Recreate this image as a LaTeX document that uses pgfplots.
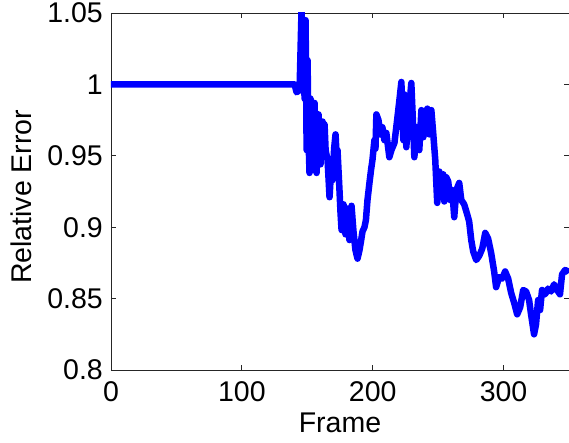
\documentclass[border=0pt]{standalone}
\usepackage{pgfplots}
\pgfplotsset{compat=1.18}
\usepackage{fontspec}
\setmainfont{Liberation Sans}
\definecolor{mlBlue}{RGB}{0,0,255}
\definecolor{axGray}{RGB}{38,38,38}

\begin{document}
\begin{tikzpicture}
\begin{axis}[
  scale only axis,
  width=458pt, height=357pt,
  xmin=0, xmax=350,
  ymin=0.8, ymax=1.05,
  xtick={0,100,200,300},
  ytick={0.8,0.85,0.9,0.95,1,1.05},
  yticklabels={0.8,0.85,0.9,0.95,1,1.05},
  tick align=inside,
  major tick length=5pt,
  axis line style={draw=axGray, line width=0.8pt},
  every tick/.style={draw=axGray, line width=0.8pt},
  /pgf/number format/assume math mode=true,
  tick label style={font=\fontsize{28.5}{32}\selectfont, text=black, inner sep=0pt},
  xticklabel style={anchor=north, yshift=-11pt},
  yticklabel style={anchor=east, xshift=-8pt},
  xlabel={Frame},
  ylabel={Relative Error},
  label style={font=\fontsize{28.5}{32}\selectfont, inner sep=0pt},
  xlabel style={at={(axis description cs:0.5,0)}, anchor=base, yshift=-62pt},
  ylabel style={at={(axis description cs:-0.1725,0.485)}, anchor=south},
]
\addplot[color=mlBlue, line width=6.5pt, line join=round, line cap=butt] coordinates {
(0,1.0)(140.3,1.0)(141.8,0.9945)(144.1,0.996)(145.6,1.052)(146.4,1.02)
(147.2,1.04)(147.9,0.99)(148.7,1.045)(149.5,0.954)(150.2,1.017)(151.0,0.96)
(151.7,0.938)(152.5,0.99)(153.3,0.982)(154.0,0.940)(154.8,0.975)(155.6,0.987)
(156.3,0.95)(157.1,0.938)(157.9,0.97)(158.6,0.979)(159.4,0.95)(160.1,0.944)
(160.9,0.968)(161.7,0.974)(162.4,0.955)(163.2,0.972)(164.0,0.954)(165.5,0.947)
(166.2,0.935)(167.0,0.921)(168.2,0.94)(169.3,0.933)(170.5,0.955)(171.6,0.965)
(172.4,0.95)(173.1,0.954)(174.6,0.926)(175.4,0.91)(176.2,0.898)(177.7,0.916)
(179.2,0.895)(180.7,0.913)(182.2,0.891)(183.8,0.915)(185.3,0.897)(186.8,0.884)
(188.4,0.878)(189.9,0.884)(191.0,0.89)(192.2,0.897)(193.7,0.900)(194.8,0.905)
(196.0,0.919)(197.5,0.931)(198.7,0.94)(199.8,0.947)(201.3,0.961)(202.1,0.955)
(202.8,0.979)(204.4,0.975)(205.9,0.965)(207.4,0.970)(208.9,0.961)(210.4,0.966)
(212.7,0.949)(214.3,0.954)(216.6,0.959)(218.9,0.977)(220.4,0.989)(221.9,1.0017)
(223.4,0.961)(224.2,0.993)(225.7,0.956)(227.3,0.982)(228.5,0.99)(229.5,1.001)
(231.0,0.968)(231.8,0.949)(233.0,0.96)(234.1,0.970)(235.6,0.954)(237.2,0.982)
(238.7,0.963)(240.2,0.979)(241.7,0.983)(243.2,0.965)(244.8,0.982)(246.3,0.965)
(247.8,0.947)(249.3,0.917)(250.9,0.939)(252.4,0.930)(253.9,0.937)(254.7,0.918)
(256.2,0.935)(257.7,0.932)(259.3,0.919)(260.8,0.926)(262.3,0.907)(263.9,0.926)
(266.1,0.931)(267.7,0.919)(269.9,0.916)(272.2,0.909)(273.7,0.904)(275.3,0.891)
(276.8,0.883)(279.1,0.877)(281.4,0.880)(283.7,0.885)(286.0,0.896)(288.2,0.892)
(290.5,0.882)(292.8,0.869)(294.3,0.858)(296.6,0.865)(298.9,0.864)(301.2,0.869)
(303.5,0.864)(305.8,0.854)(308.1,0.847)(310.4,0.839)(312.7,0.844)(315.0,0.856)
(317.2,0.855)(319.5,0.849)(321.0,0.839)(323.3,0.825)(324.8,0.832)(326.4,0.849)
(327.9,0.842)(329.4,0.856)(331.7,0.853)(334.0,0.857)(336.3,0.855)(338.6,0.860)
(340.9,0.856)(343.1,0.853)(344.7,0.867)(347.0,0.870)(349.2,0.869)(350,0.868)
};
\end{axis}
\pgfresetboundingbox
\path ([xshift=-111pt,yshift=-72pt]current axis.south west)
  rectangle ([yshift=13pt]current axis.north east);
\end{tikzpicture}
\end{document}
